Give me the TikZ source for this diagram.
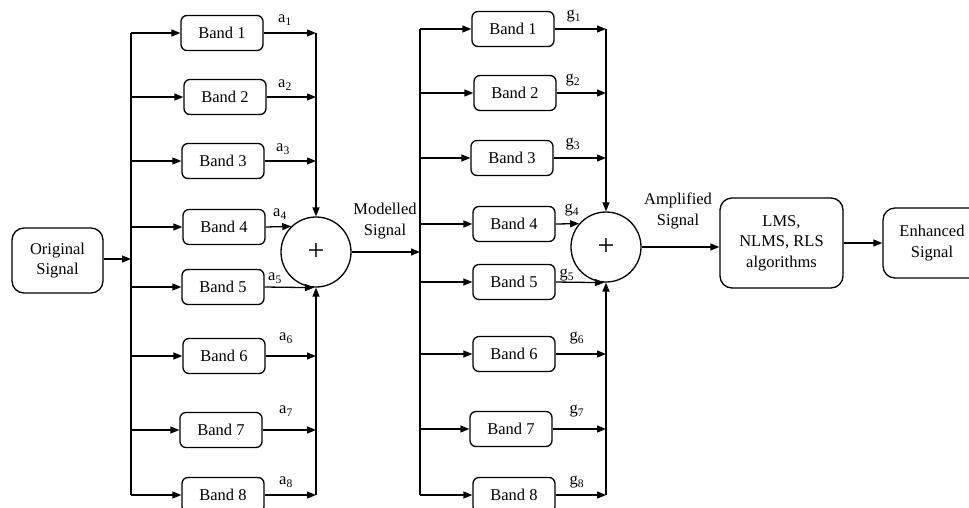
\documentclass[tikz,border=0pt]{standalone}
\usepackage{fontspec}
\setmainfont{Liberation Serif}
\usetikzlibrary{arrows.meta,calc}
\begin{document}
\begin{tikzpicture}[x=1pt,y=-1pt,
  line width=1.3pt,
  every node/.style={font=\fontsize{16.5}{20.5}\selectfont},
  arr/.style={-{Triangle[length=9pt,width=7pt]}},
  band/.style={draw,rounded corners=6pt,minimum width=82pt,minimum height=35pt,inner sep=0pt},
  bigbox/.style={draw,rounded corners=12pt,align=center,inner sep=0pt},
  summer/.style={draw,circle,minimum size=70pt,inner sep=0pt,font=\fontsize{30}{30}\selectfont},
  lbl/.style={inner sep=0pt},
  twol/.style={align=center,inner sep=0pt}]
\useasboundingbox (0,0) rectangle (969,507);
% main nodes
\node[bigbox,minimum width=91pt,minimum height=65pt] (orig) at (57.5,260.5) {Original\\Signal};
\coordinate (busL) at (131,0);
\coordinate (colL) at (316,0);
\coordinate (busR) at (420,0);
\coordinate (colR) at (606,0);
% left bands
\node[band] (a1) at (222,33) {Band 1};
\node[band] (a2) at (225,97) {Band 2};
\node[band] (a3) at (223,161) {Band 3};
\node[band] (a4) at (224,227) {Band 4};
\node[band] (a5) at (223,287) {Band 5};
\node[band] (a6) at (224,356) {Band 6};
\node[band] (a7) at (221,430) {Band 7};
\node[band] (a8) at (223,495) {Band 8};
\node[summer] (s1) at (316,252) {+};
% right bands
\node[band] (g1) at (513,29) {Band 1};
\node[band] (g2) at (515,93) {Band 2};
\node[band] (g3) at (512,158) {Band 3};
\node[band] (g4) at (514,224) {Band 4};
\node[band] (g5) at (514,282) {Band 5};
\node[band] (g6) at (514,354) {Band 6};
\node[band] (g7) at (511,429) {Band 7};
\node[band] (g8) at (514,495) {Band 8};
\node[summer] (s2) at (606,247) {+};
\node[bigbox,minimum width=123pt,minimum height=90pt] (lms) at (781.5,243) {LMS,\\NLMS, RLS\\algorithms};
\node[bigbox,minimum width=98pt,minimum height=70pt] (enh) at (932,243) {Enhanced\\Signal};
% labels
\node[twol] (ml) at (385,221) {Modelled\\Signal};
\node[twol] (al) at (678,211) {Amplified\\Signal};
\node[lbl] (la1) at (285,20) {a\textsubscript{1}};
\node[lbl] (la2) at (285,85) {a\textsubscript{2}};
\node[lbl] (la3) at (283,149) {a\textsubscript{3}};
\node[lbl] (la4) at (280,214) {a\textsubscript{4}};
\node[lbl] (la5) at (275,278) {a\textsubscript{5}};
\node[lbl] (la6) at (286,338) {a\textsubscript{6}};
\node[lbl] (la7) at (286,411) {a\textsubscript{7}};
\node[lbl] (la8) at (286,482) {a\textsubscript{8}};
\node[lbl] (lg1) at (574,16) {g\textsubscript{1}};
\node[lbl] (lg2) at (573,80) {g\textsubscript{2}};
\node[lbl] (lg3) at (573,144) {g\textsubscript{3}};
\node[lbl] (lg4) at (572,210) {g\textsubscript{4}};
\node[lbl] (lg5) at (567,275) {g\textsubscript{5}};
\node[lbl] (lg6) at (577,338) {g\textsubscript{6}};
\node[lbl] (lg7) at (577,411) {g\textsubscript{7}};
\node[lbl] (lg8) at (577,482) {g\textsubscript{8}};
% left part connectors
\draw[arr] (orig.east |- 0,259) -- (busL |- 0,259);
\draw (a1.west -| busL) -- (a8.west -| busL);
\foreach \i in {1,...,8} {\draw[arr] (a\i.west -| busL) -- (a\i.west);}
\foreach \i in {1,2,3,6,7,8} {\draw[arr] (a\i.east) -- (a\i.east -| colL);}
\draw[arr] (a1.east -| colL) -- (s1.north);
\draw[arr] (a8.east -| colL) -- (s1.south);
\draw[arr] (a4.east) -- (s1.134);
\draw[arr] (a5.east) -- ([xshift=-2pt]s1.south);
\draw[arr] (s1.east) -- (s1.east -| busR);
% right part connectors
\draw (g1.west -| busR) -- (g8.west -| busR);
\foreach \i in {1,...,8} {\draw[arr] (g\i.west -| busR) -- (g\i.west);}
\foreach \i in {1,2,3,6,7,8} {\draw[arr] (g\i.east) -- (g\i.east -| colR);}
\draw[arr] (g1.east -| colR) -- (s2.north);
\draw[arr] (g8.east -| colR) -- (s2.south);
\draw[arr] (g4.east) -- (s2.139);
\draw[arr] (g5.east) -- ([xshift=-2pt]s2.south);
\draw[arr] (s2.east) -- (s2.east -| lms.west);
\draw[arr] (lms.east) -- (enh.west);
\end{tikzpicture}
\end{document}
